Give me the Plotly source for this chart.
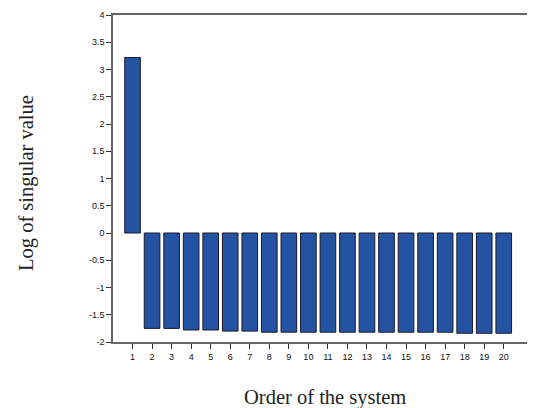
import plotly.graph_objects as go

orders = list(range(1, 21))
log_sv = [3.22, -1.75, -1.75, -1.78, -1.78, -1.80, -1.80, -1.82, -1.82, -1.82,
          -1.82, -1.82, -1.82, -1.82, -1.82, -1.82, -1.82, -1.84, -1.84, -1.84]
y_ticks = [4, 3.5, 3, 2.5, 2, 1.5, 1, 0.5, 0, -0.5, -1, -1.5, -2]
y_tick_labels = ["4", "3.5", "3", "2.5", "2", "1.5", "1", "0.5", "0", "-0.5", "-1", "-1.5", "-2"]
x_tick_labels = [str(o) for o in orders]

fig = go.Figure(go.Bar(
    x=orders, y=log_sv, width=0.8,
    marker=dict(color="#2453a3", line=dict(color="#1a1a2a", width=1)),
))

tickfont = dict(family="Liberation Sans, Arial, sans-serif", size=9, color="#111")
titlefont = dict(family="Liberation Serif, Times New Roman, serif", size=20.5, color="#222")
PW, PH, L, T = 422, 327, 105, 7
fig.update_layout(
    width=527, height=400,
    margin=dict(l=L, r=0, t=T, b=400 - T - PH),
    paper_bgcolor="white", plot_bgcolor="white",
    showlegend=False,
    xaxis=dict(range=[0, 21.6], tickvals=orders, ticktext=x_tick_labels,
               ticks="outside", ticklen=5, tickcolor="#333", tickwidth=1,
               showline=True, linecolor="#666", linewidth=1.5, mirror=True,
               showgrid=False, zeroline=False, tickfont=tickfont),
    yaxis=dict(range=[-2, 4], tickvals=y_ticks, ticktext=y_tick_labels,
               ticks="outside", ticklen=5, tickcolor="#333", tickwidth=1,
               showline=True, linecolor="#666", linewidth=1.5,
               showgrid=False, zeroline=False, tickfont=tickfont),
    annotations=[
        dict(text="Log of singular value", xref="paper", yref="paper",
             x=(18 - L) / PW, y=1 - (175 - T) / PH, textangle=-90, showarrow=False,
             xanchor="center", yanchor="middle", font=titlefont),
        dict(text="Order of the system", xref="paper", yref="paper",
             x=(317 - L) / PW, y=-(389 - T - PH) / PH, showarrow=False,
             xanchor="center", yanchor="middle", font=titlefont),
    ],
)

fig.write_html("out.html")
